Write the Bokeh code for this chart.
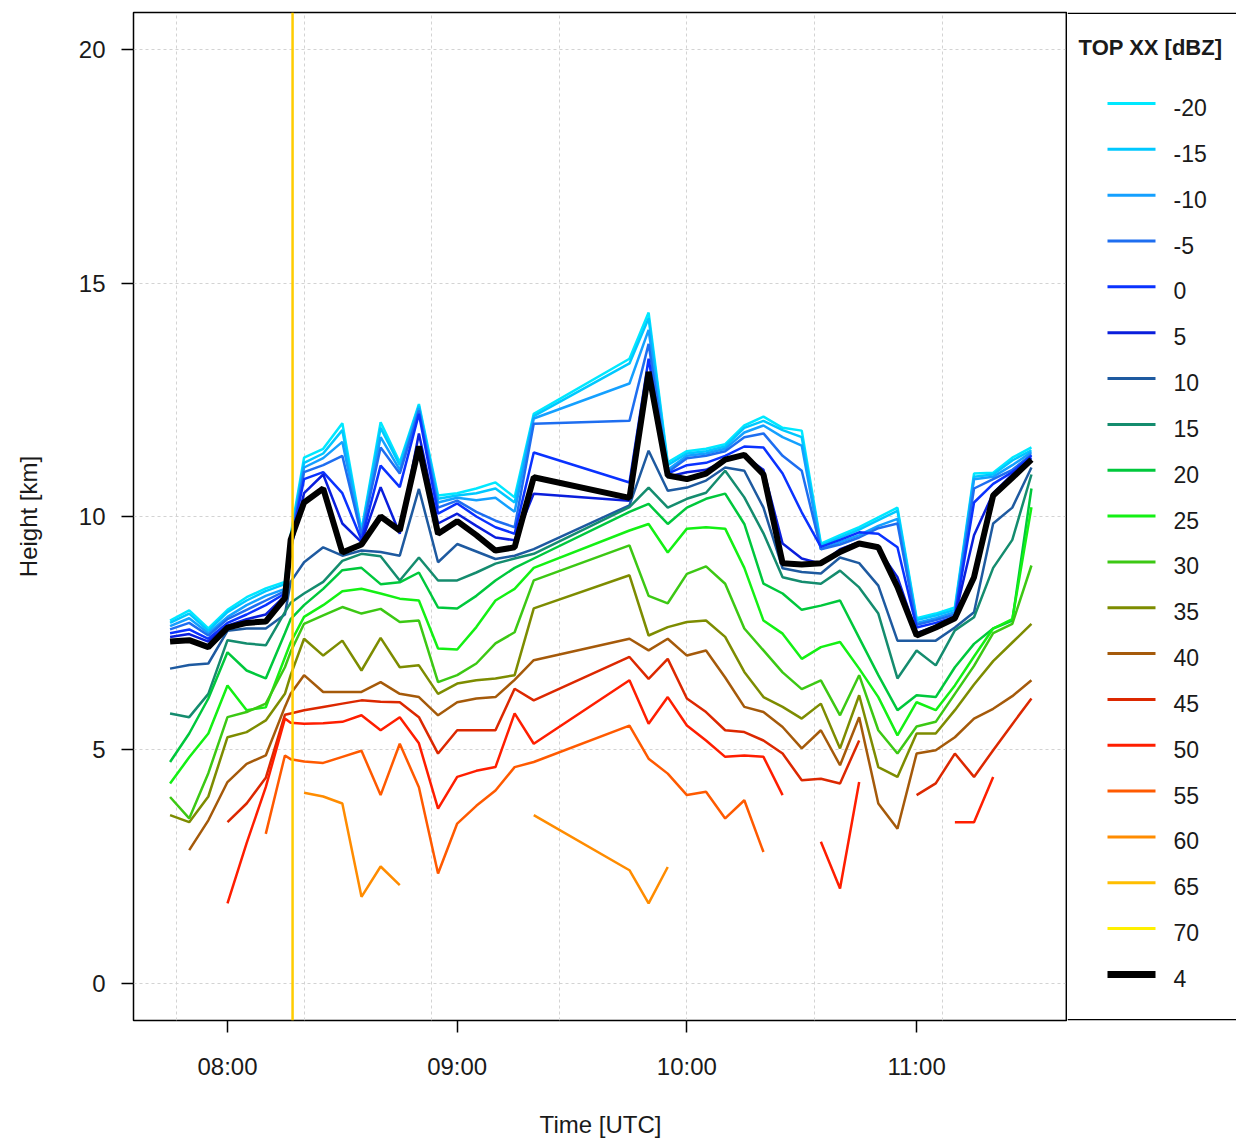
import math
from bokeh.plotting import figure
from bokeh.models import Range1d, FixedTicker, Span, ColumnDataSource
from bokeh.layouts import row
from bokeh.embed import file_html
from bokeh.resources import INLINE
from bokeh.core.properties import value

N = None
# ---------------- data ----------------
times = ["07:45", "07:50", "07:55", "08:00", "08:05", "08:10", "08:15", "08:16:30",
         "08:20", "08:25", "08:30", "08:35", "08:40", "08:45", "08:50", "08:55",
         "09:00", "09:05", "09:10", "09:15", "09:20", "09:45", "09:50", "09:55",
         "10:00", "10:05", "10:10", "10:15", "10:20", "10:25", "10:30", "10:35",
         "10:40", "10:45", "10:50", "10:55", "11:00", "11:05", "11:10", "11:15",
         "11:20", "11:25", "11:30"]

levels = ["-20", "-15", "-10", "-5", "0", "5", "10", "15", "20", "25", "30",
          "35", "40", "45", "50", "55", "60", "65", "70"]
colors = ["#00E8FF", "#00C8FF", "#14A0FF", "#1E6EF0", "#0A32FF", "#0A1EDC",
          "#1E5AA0", "#148C6E", "#00C83C", "#14F014", "#3CC814", "#7D8C00",
          "#A55A0A", "#DC2800", "#FF1E00", "#FF5A00", "#FF8C00", "#FFBE00",
          "#FFF000"]

top_m20 = [7.77, 7.99, 7.6, 8.0, 8.27, 8.46, 8.6, 9.6, 11.26, 11.45, 12.0, 9.7, 12.02, 11.16, 12.41, 10.45, 10.5, 10.6, 10.73, 10.41, 12.2, 13.38, 14.37, 11.16, 11.4, 11.45, 11.55, 11.95, 12.14, 11.9, 11.84, 9.42, 9.6, 9.77, 9.98, 10.19, 7.82, 7.92, 8.05, 10.92, 10.94, 11.26, 11.48]
top_m15 = [7.72, 7.92, 7.55, 7.95, 8.2, 8.4, 8.55, 9.55, 11.15, 11.35, 11.85, 9.66, 11.9, 11.1, 12.37, 10.38, 10.45, 10.5, 10.6, 10.3, 12.15, 13.28, 14.25, 11.1, 11.35, 11.4, 11.5, 11.9, 12.05, 11.85, 11.7, 9.38, 9.55, 9.72, 9.92, 10.12, 7.78, 7.88, 8.0, 10.85, 10.9, 11.2, 11.42]
top_m10 = [7.65, 7.82, 7.5, 7.85, 8.1, 8.3, 8.45, 9.5, 11.05, 11.25, 11.6, 9.62, 11.7, 11.0, 12.32, 10.3, 10.4, 10.35, 10.4, 10.1, 12.1, 12.85, 14.0, 11.0, 11.3, 11.35, 11.45, 11.8, 11.95, 11.7, 11.52, 9.3, 9.45, 9.6, 9.8, 9.95, 7.72, 7.82, 7.95, 10.8, 10.85, 11.1, 11.38]
top_m05 = [7.58, 7.72, 7.45, 7.8, 8.0, 8.2, 8.4, 9.45, 10.95, 11.1, 11.3, 9.6, 11.48, 10.92, 12.27, 10.19, 10.34, 10.1, 9.91, 9.77, 11.99, 12.05, 13.7, 10.95, 11.25, 11.3, 11.4, 11.7, 11.78, 11.3, 10.98, 9.3, 9.4, 9.55, 9.75, 9.85, 7.68, 7.78, 7.9, 10.6, 10.8, 11.0, 11.33]
top_p00 = [7.5, 7.58, 7.38, 7.72, 7.9, 8.1, 8.35, 9.4, 10.8, 10.95, 10.5, 9.5, 11.09, 10.63, 12.2, 10.06, 10.28, 10.0, 9.77, 9.63, 11.37, 10.73, 13.38, 10.92, 11.1, 11.15, 11.3, 11.5, 11.48, 10.92, 10.09, 9.35, 9.5, 9.66, 9.63, 9.34, 7.62, 7.72, 7.85, 10.3, 10.7, 10.95, 11.3]
top_p05 = [7.42, 7.48, 7.32, 7.66, 7.8, 7.9, 8.3, 9.3, 10.5, 10.9, 9.85, 9.45, 10.63, 9.63, 11.78, 9.85, 10.06, 9.8, 9.55, 9.49, 10.49, 10.34, 13.0, 10.85, 10.95, 11.0, 11.2, 11.3, 11.0, 9.42, 9.1, 8.99, 9.3, 9.45, 9.3, 8.7, 7.5, 7.65, 7.85, 9.6, 10.5, 10.9, 11.25]
top_p10 = [6.74, 6.82, 6.85, 7.55, 7.6, 7.6, 7.9, 8.6, 9.02, 9.34, 9.16, 9.27, 9.24, 9.16, 10.59, 9.02, 9.41, 9.25, 9.09, 9.16, 9.3, 10.24, 11.41, 10.55, 10.62, 10.77, 11.05, 10.98, 10.19, 8.89, 8.81, 8.78, 9.12, 9.0, 8.52, 7.34, 7.34, 7.34, 7.62, 7.95, 9.85, 10.19, 11.05]
top_p15 = [5.78, 5.7, 6.2, 7.35, 7.28, 7.24, 7.95, 8.15, 8.35, 8.6, 9.05, 9.2, 9.15, 8.63, 9.12, 8.63, 8.63, 8.8, 8.99, 9.1, 9.2, 10.2, 10.62, 10.19, 10.38, 10.51, 10.98, 10.41, 9.64, 8.7, 8.6, 8.56, 8.84, 8.48, 7.92, 6.53, 7.13, 6.81, 7.56, 7.84, 8.9, 9.5, 10.9]
top_p20 = [4.74, 5.35, 6.1, 7.09, 6.7, 6.53, 7.5, 7.8, 8.1, 8.45, 8.85, 8.9, 8.55, 8.59, 8.8, 8.05, 8.03, 8.3, 8.63, 8.9, 9.1, 10.1, 10.27, 9.84, 10.19, 10.38, 10.49, 9.84, 8.56, 8.35, 8.0, 8.09, 8.2, 7.4, 6.6, 5.85, 6.17, 6.13, 6.77, 7.27, 7.6, 7.77, 10.6]
top_p25 = [4.28, 4.84, 5.35, 6.38, 5.85, 5.91, 6.98, 7.3, 7.85, 8.1, 8.4, 8.45, 8.35, 8.24, 8.2, 7.17, 7.15, 7.63, 8.2, 8.45, 8.9, 9.7, 9.84, 9.23, 9.74, 9.77, 9.74, 8.9, 7.77, 7.49, 6.95, 7.2, 7.31, 6.74, 6.13, 5.31, 6.02, 5.85, 6.38, 7.0, 7.6, 7.8, 10.2]
top_p30 = [3.99, 3.53, 4.5, 5.7, 5.81, 5.99, 6.77, 7.1, 7.7, 7.88, 8.06, 7.92, 8.02, 7.74, 7.77, 6.45, 6.6, 6.85, 7.28, 7.52, 8.63, 9.38, 8.3, 8.14, 8.77, 8.93, 8.56, 7.6, 7.13, 6.66, 6.3, 6.49, 5.74, 6.6, 5.42, 4.92, 5.5, 5.6, 6.2, 6.8, 7.5, 7.7, 8.95]
top_p35 = [3.6, 3.45, 4.0, 5.27, 5.38, 5.63, 6.2, 6.6, 7.38, 7.02, 7.34, 6.7, 7.4, 6.77, 6.81, 6.2, 6.42, 6.49, 6.53, 6.6, 8.03, 8.74, 7.45, 7.63, 7.74, 7.77, 7.42, 6.67, 6.13, 5.92, 5.67, 5.99, 5.03, 6.17, 4.63, 4.42, 5.35, 5.35, 5.85, 6.4, 6.9, 7.3, 7.7]
top_p40 = [N, 2.85, 3.49, 4.31, 4.7, 4.88, 5.92, 6.2, 6.6, 6.24, 6.24, 6.24, 6.45, 6.2, 6.13, 5.74, 6.02, 6.1, 6.13, 6.5, 6.92, 7.38, 7.13, 7.38, 7.02, 7.13, 6.55, 5.92, 5.81, 5.49, 5.03, 5.42, 4.67, 5.7, 3.85, 3.31, 4.92, 4.99, 5.27, 5.67, 5.88, 6.15, 6.49]
top_p45 = [N, N, N, 3.45, 3.85, 4.4, 5.75, 5.78, 5.85, 5.92, 5.99, 6.06, 6.03, 6.02, 5.7, 4.92, 5.42, 5.42, 5.42, 6.31, 6.06, 6.99, 6.52, 6.95, 6.1, 5.81, 5.42, 5.38, 5.2, 4.92, 4.35, 4.38, 4.28, 5.2, N, N, 4.03, 4.28, 4.92, 4.42, 4.99, 5.55, 6.1]
top_p50 = [N, N, N, 1.71, 3.0, 4.2, 5.67, 5.58, 5.56, 5.57, 5.6, 5.74, 5.42, 5.7, 5.14, 3.74, 4.42, 4.55, 4.63, 5.78, 5.13, 6.49, 5.56, 6.13, 5.52, 5.2, 4.85, 4.88, 4.85, 4.03, N, 3.03, 2.03, 4.31, N, N, N, N, 3.45, 3.45, 4.42, N, N]
top_p55 = [N, N, N, N, N, 3.2, 4.88, 4.8, 4.75, 4.72, 4.85, 4.98, 4.03, 5.13, 4.2, 2.35, 3.42, 3.8, 4.13, 4.63, 4.74, 5.52, 4.81, 4.49, 4.03, 4.1, 3.53, 3.92, 2.81, N, N, N, N, N, N, N, N, N, N, N, N, N, N]
top_p60 = [N, N, N, N, N, N, N, N, 4.08, 4.0, 3.85, 1.85, 2.5, 2.1, N, N, N, N, N, N, 3.6, 2.42, 1.71, 2.49, N, N, N, N, N, N, N, N, N, N, N, N, N, N, N, N, N, N, N]
top_p65 = [N] * 43
top_p70 = [N] * 43
top_p04 = [7.32, 7.35, 7.2, 7.62, 7.72, 7.75, 8.25, 9.5, 10.3, 10.6, 9.23, 9.4, 10.0, 9.7, 11.5, 9.63, 9.9, 9.6, 9.27, 9.34, 10.84, 10.4, 13.1, 10.88, 10.8, 10.92, 11.22, 11.32, 10.9, 9.0, 8.97, 9.0, 9.24, 9.42, 9.34, 8.49, 7.45, 7.62, 7.82, 8.7, 10.45, 10.83, 11.22]

series = [top_m20, top_m15, top_m10, top_m05, top_p00, top_p05, top_p10, top_p15,
          top_p20, top_p25, top_p30, top_p35, top_p40, top_p45, top_p50, top_p55,
          top_p60, top_p65, top_p70]
highlight_label = "4"
highlight_color = "black"

event_time = "08:17"
event_color = "#FFCC00"

x_tick_labels = ["08:00", "09:00", "10:00", "11:00"]
y_ticks = [0, 5, 10, 15, 20]
grid_seconds = [28000, 30000, 32000, 34000, 36000, 38000, 40000]


def to_sec(s):
    parts = [int(v) for v in s.split(":")]
    while len(parts) < 3:
        parts.append(0)
    return parts[0] * 3600 + parts[1] * 60 + parts[2]


def clean(vals):
    return [float("nan") if v is None else v for v in vals]


xs = [to_sec(t) for t in times]

FONT = "Liberation Sans"
TXT = "#1a1a1a"
FS = "24px"
X_END = 41965

# ---------------- main plot ----------------
p = figure(width=1067, height=1141,
           x_range=Range1d(27327, X_END), y_range=Range1d(-0.8, 20.8),
           output_backend="svg", toolbar_location=None,
           min_border_left=133, min_border_right=0,
           min_border_top=12, min_border_bottom=121,
           background_fill_color="white", border_fill_color="white")
p.outline_line_color = "black"
p.outline_line_width = 1.5

p.xaxis.ticker = FixedTicker(ticks=[to_sec(t) for t in x_tick_labels])
p.xaxis.major_label_overrides = {to_sec(t): t for t in x_tick_labels}
p.yaxis.ticker = FixedTicker(ticks=y_ticks)
p.xgrid.ticker = FixedTicker(ticks=grid_seconds)
p.ygrid.ticker = FixedTicker(ticks=y_ticks)
for g in (p.xgrid, p.ygrid):
    g.grid_line_color = "#D3D3D3"
    g.grid_line_dash = "3 3"
    g.grid_line_width = 1

for ax in (p.xaxis, p.yaxis):
    ax.axis_line_color = None
    ax.major_tick_line_color = "black"
    ax.major_tick_line_width = 1.5
    ax.major_tick_out = 12
    ax.major_tick_in = 0
    ax.minor_tick_line_color = None
    ax.major_label_text_font = FONT
    ax.major_label_text_font_size = FS
    ax.major_label_text_color = TXT
    ax.axis_label_text_font = FONT
    ax.axis_label_text_font_size = FS
    ax.axis_label_text_font_style = "normal"
    ax.axis_label_text_color = TXT

p.xaxis.axis_label = "Time [UTC]"
p.yaxis.axis_label = "Height [km]"
p.xaxis.major_label_standoff = 20
p.xaxis.axis_label_standoff = 28
p.yaxis.major_label_standoff = 16
p.yaxis.axis_label_standoff = 34

p.add_layout(Span(location=to_sec(event_time), dimension="height",
                  line_color=event_color, line_width=2.5))

for lev, col, vals in zip(levels, colors, series):
    p.line(x=xs, y=clean(vals), line_color=col, line_width=2.5)
p.line(x=xs, y=clean(top_p04), line_color=highlight_color, line_width=6)

# heavy separator between plot and legend panel
p.add_layout(Span(location=X_END, dimension="height", line_color="black", line_width=3.5))

# ---------------- legend panel ----------------
pl = figure(width=169, height=1141, x_range=Range1d(0, 169), y_range=Range1d(0, 1008),
            output_backend="svg", toolbar_location=None,
            min_border_left=0, min_border_right=0,
            min_border_top=12, min_border_bottom=121,
            x_axis_location=None, y_axis_location=None)
pl.outline_line_color = None
pl.grid.visible = False
pl.add_layout(Span(location=1007.3, dimension="width", line_color="black", line_width=1.5))
pl.add_layout(Span(location=0.7, dimension="width", line_color="black", line_width=1.5))

leg_labels = levels + [highlight_label]
leg_colors = colors + [highlight_color]
leg_widths = [3] * len(levels) + [7]
row_y = [1008 - (91 + 45.84 * i) for i in range(len(leg_labels))]
src = ColumnDataSource(dict(y=row_y, ty=[v - 4 for v in row_y], lab=leg_labels,
                            col=leg_colors, w=leg_widths))
pl.segment(x0=40, x1=88, y0="y", y1="y", line_color="col", line_width="w", source=src)
pl.text(x=106, y="ty", text="lab", source=src, text_font=value(FONT),
        text_font_size="23px", text_color=TXT, text_baseline="middle", text_align="left")
pl.text(x=[83], y=[973], text=["TOP XX [dBZ]"], text_font=value(FONT),
        text_font_size="22px", text_font_style="bold", text_color=TXT,
        text_baseline="middle", text_align="center")

layout = row(p, pl)
open("out.html", "w").write(file_html(layout, INLINE))
